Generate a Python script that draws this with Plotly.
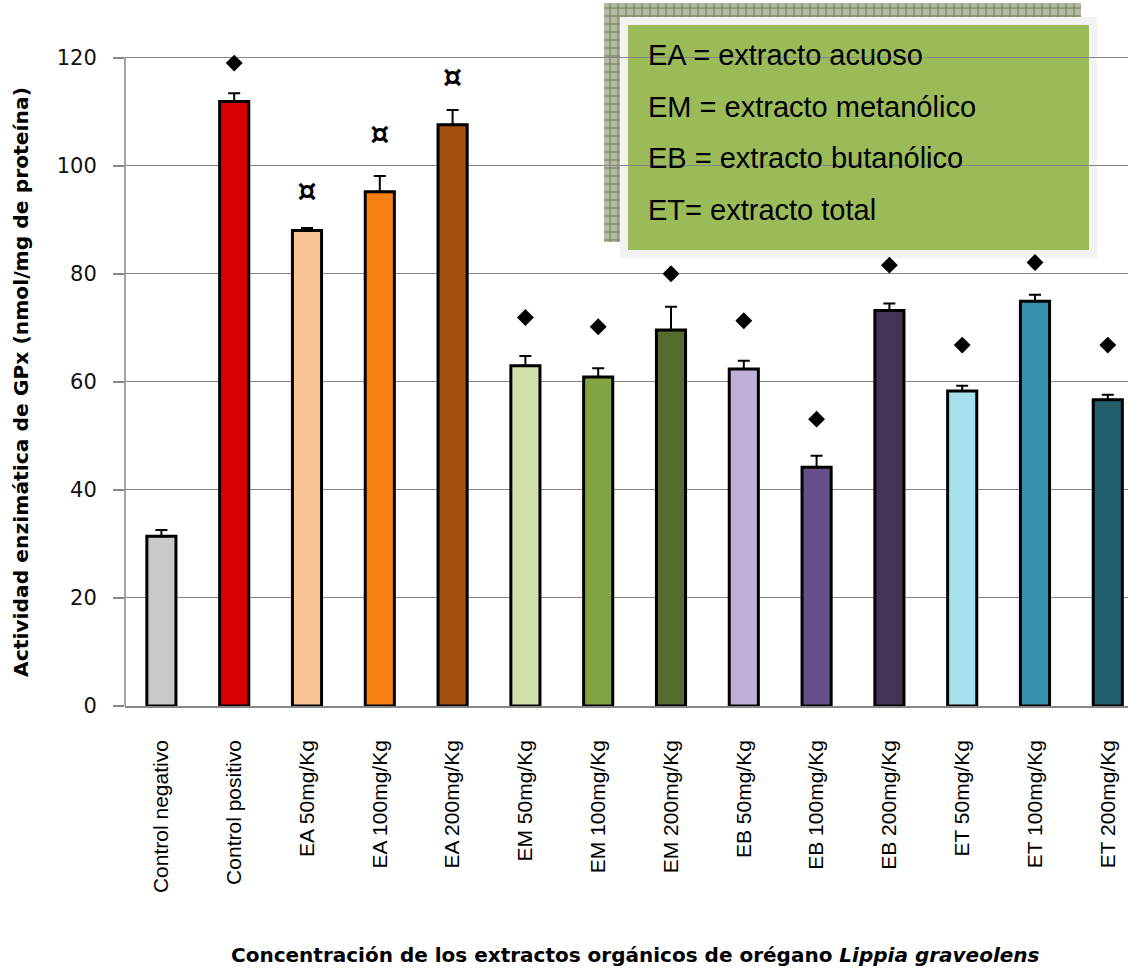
import plotly.graph_objects as go

# --- data -------------------------------------------------------------
categories = [
    "Control negativo", "Control positivo",
    "EA 50mg/Kg", "EA 100mg/Kg", "EA 200mg/Kg",
    "EM 50mg/Kg", "EM 100mg/Kg", "EM 200mg/Kg",
    "EB 50mg/Kg", "EB 100mg/Kg", "EB 200mg/Kg",
    "ET 50mg/Kg", "ET 100mg/Kg", "ET 200mg/Kg",
]
gpx_activity = [31.4, 111.9, 88.0, 95.2, 107.6, 63.0, 60.9, 69.6,
                62.4, 44.2, 73.2, 58.3, 74.9, 56.7]
gpx_error = [1.2, 1.5, 0.5, 2.9, 2.7, 1.8, 1.6, 4.3, 1.5, 2.1, 1.3, 1.0, 1.2, 0.9]

# significance marks drawn above the bars
diamond_cats = ["Control positivo", "EM 50mg/Kg", "EM 100mg/Kg", "EM 200mg/Kg",
                "EB 50mg/Kg", "EB 100mg/Kg", "EB 200mg/Kg",
                "ET 50mg/Kg", "ET 100mg/Kg", "ET 200mg/Kg"]
diamond_y = [119.0, 71.9, 70.2, 80.0, 71.3, 53.1, 81.6, 66.8, 82.1, 66.8]
currency_cats = ["EA 50mg/Kg", "EA 100mg/Kg", "EA 200mg/Kg"]
currency_y = [94.9, 105.5, 116.0]

y_ticks = [0, 20, 40, 60, 80, 100, 120]

legend_lines = ["EA = extracto acuoso", "EM = extracto metanólico",
                "EB = extracto butanólico", "ET= extracto total"]

bar_colors = ["#c9c9c9", "#d80000", "#f9c596", "#f67f12", "#a5500c",
              "#d0e0a8", "#82a342", "#566b2c", "#c0b0d8", "#66508a",
              "#433456", "#a6e0ed", "#3591ad", "#245f6e"]

# --- geometry helpers (pixel -> paper) -------------------------------
W, H = 1128, 973
ML, MR, MT, MB = 125, 0, 0, 267
PW, PH = W - ML - MR, H - MT - MB


def px(x):
    return (x - ML) / PW


def py(y):
    return (H - MB - y) / PH


fig = go.Figure()

fig.add_trace(go.Bar(
    x=categories, y=gpx_activity, width=0.4,
    marker=dict(color=bar_colors, line=dict(color="black", width=3)),
    error_y=dict(type="data", symmetric=False, array=gpx_error,
                 arrayminus=[0] * len(gpx_error),
                 color="black", thickness=2, width=6),
    showlegend=False, hoverinfo="x+y",
))

fig.add_trace(go.Scatter(
    x=diamond_cats, y=diamond_y, mode="markers",
    marker=dict(symbol="diamond", size=13, color="black"),
    showlegend=False, hoverinfo="skip",
))

fig.add_trace(go.Scatter(
    x=currency_cats, y=currency_y, mode="text", text=["¤"] * len(currency_cats),
    textposition="middle center",
    textfont=dict(family="DejaVu Sans", size=30, color="black", weight="bold"),
    showlegend=False, hoverinfo="skip",
))

# --- legend box: hatched back panel, pale frame, green panel ----------
shapes = []
# value axis line, running from 0 up to the top tick only
shapes.append(dict(type="line", xref="paper", yref="y",
                   x0=0, x1=0, y0=0, y1=max(y_ticks),
                   line=dict(color="#878787", width=1.5), layer="above"))

hx0, hx1, hy0, hy1 = 604, 1081, 3, 242
shapes.append(dict(type="rect", xref="paper", yref="paper",
                   x0=px(hx0), x1=px(hx1), y0=py(hy1), y1=py(hy0),
                   fillcolor="#b3bba3", line=dict(width=0), layer="between"))
for gx in range(hx0 + 6, hx1, 8):
    shapes.append(dict(type="line", xref="paper", yref="paper",
                       x0=px(gx), x1=px(gx), y0=py(hy1), y1=py(hy0),
                       line=dict(color="#6c7c50", width=1), layer="between"))
for gy in range(hy0 + 5, hy1, 8):
    shapes.append(dict(type="line", xref="paper", yref="paper",
                       x0=px(hx0), x1=px(hx1), y0=py(gy), y1=py(gy),
                       line=dict(color="#6c7c50", width=1), layer="between"))
shapes.append(dict(type="rect", xref="paper", yref="paper",
                   x0=px(620), x1=px(1097), y0=py(258), y1=py(17),
                   fillcolor="#f2f2f2", line=dict(width=0), layer="between"))
shapes.append(dict(type="rect", xref="paper", yref="paper",
                   x0=px(628), x1=px(1089), y0=py(250), y1=py(25),
                   fillcolor="#9bbb59", line=dict(width=0), layer="between"))

annotations = []
for i, line in enumerate(legend_lines):
    annotations.append(dict(
        xref="paper", yref="paper", x=px(646), y=py(55 + 51.5 * i),
        xanchor="left", yanchor="middle", showarrow=False, text=line,
        font=dict(family="Liberation Sans, Arial", size=29, color="black"),
    ))

annotations.append(dict(
    xref="paper", yref="paper", x=px(21), y=py(382),
    xanchor="center", yanchor="middle", showarrow=False, textangle=-90,
    text="<b>Actividad enzimática de GPx (nmol/mg de proteína)</b>",
    font=dict(family="DejaVu Sans", size=20.3, color="black"),
))
annotations.append(dict(
    xref="paper", yref="paper", x=px(635), y=py(955),
    xanchor="center", yanchor="middle", showarrow=False,
    text="<b>Concentración de los extractos orgánicos de orégano <i>Lippia graveolens</i></b>",
    font=dict(family="DejaVu Sans", size=20, color="black"),
))

fig.update_layout(
    width=W, height=H,
    margin=dict(l=ML, r=MR, t=MT, b=MB, pad=0),
    paper_bgcolor="white", plot_bgcolor="white",
    shapes=shapes, annotations=annotations,
    xaxis=dict(
        type="category", range=[-0.5, -0.5 + PW / 72.8],
        showline=True, linecolor="#878787", linewidth=1.5,
        ticks="", tickangle=-90, ticklabelstandoff=24,
        tickfont=dict(family="Liberation Sans, Arial", size=21, color="black"),
        showgrid=False, zeroline=False,
    ),
    yaxis=dict(
        range=[0, PH / 5.4025], tickvals=y_ticks,
        showline=False,
        ticks="outside", ticklen=11, tickcolor="#878787", tickwidth=1.5,
        ticklabelstandoff=12,
        tickfont=dict(family="DejaVu Sans", size=21, color="#111111"),
        showgrid=True, gridcolor="#878787", gridwidth=1.3,
        zeroline=False,
    ),
)

fig.write_html("out.html")
